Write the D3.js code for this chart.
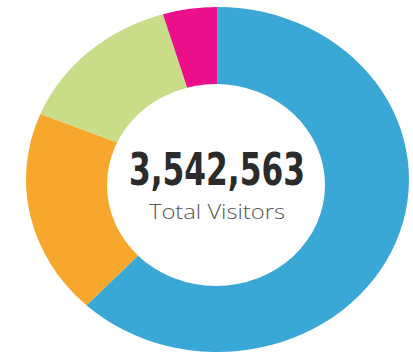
<!DOCTYPE html>
<html>
<head>
<meta charset="utf-8">
<script src="https://cdn.jsdelivr.net/npm/d3@7"></script>
<style>
  html, body { margin: 0; padding: 0; background: #fff; }
  svg { display: block; }
</style>
</head>
<body>
<svg id="chart" width="413" height="363"></svg>
<script>
// Visitors by traffic source, clockwise from 12 o'clock
const sources = ["Direct", "Referral", "Search", "Social"];
const visitors = [2196389, 680172, 503044, 162958];
const colors = ["#3aa8d6", "#f7a82c", "#c9dc88", "#ec0f8c"];
const centerLabel = "Total Visitors";

const cx = 217.5, cy = 179.5;
const outerR = 172.5;
const stretchX = 1.11;
// centre hole (slightly lower than the ring's centre)
const hole = { cx: 216, cy: 185, rx: 109, ry: 101 };

const svg = d3.select("#chart");

const pie = d3.pie().sort(null).value(d => d.value);
const arc = d3.arc().innerRadius(0).outerRadius(outerR);

const data = sources.map((s, i) => ({ source: s, value: visitors[i], color: colors[i] }));

const ring = svg.append("g")
  .attr("transform", `translate(${cx},${cy}) scale(${stretchX},1)`);

ring.selectAll("path")
  .data(pie(data))
  .join("path")
  .attr("d", arc)
  .attr("fill", d => d.data.color);

svg.append("ellipse")
  .attr("cx", hole.cx)
  .attr("cy", hole.cy)
  .attr("rx", hole.rx)
  .attr("ry", hole.ry)
  .attr("fill", "#fff");

const total = d3.sum(visitors);

const label = svg.append("g").attr("transform", `translate(${cx},${cy})`);

label.append("text")
  .attr("x", -0.5)
  .attr("y", 5.5)
  .attr("text-anchor", "middle")
  .attr("font-family", "'DejaVu Sans Condensed', 'DejaVu Sans', sans-serif")
  .attr("font-weight", "bold")
  .attr("font-size", 44)
  .attr("fill", "#2b2b2b")
  .attr("textLength", 176)
  .attr("lengthAdjust", "spacingAndGlyphs")
  .text(d3.format(",")(total));

label.append("text")
  .attr("x", -0.5)
  .attr("y", 39)
  .attr("text-anchor", "middle")
  .attr("font-family", "'Open Sans', sans-serif")
  .attr("font-weight", 300)
  .attr("font-size", 20)
  .attr("fill", "#555")
  .attr("textLength", 136)
  .attr("lengthAdjust", "spacingAndGlyphs")
  .text(centerLabel);
</script>
</body>
</html>
